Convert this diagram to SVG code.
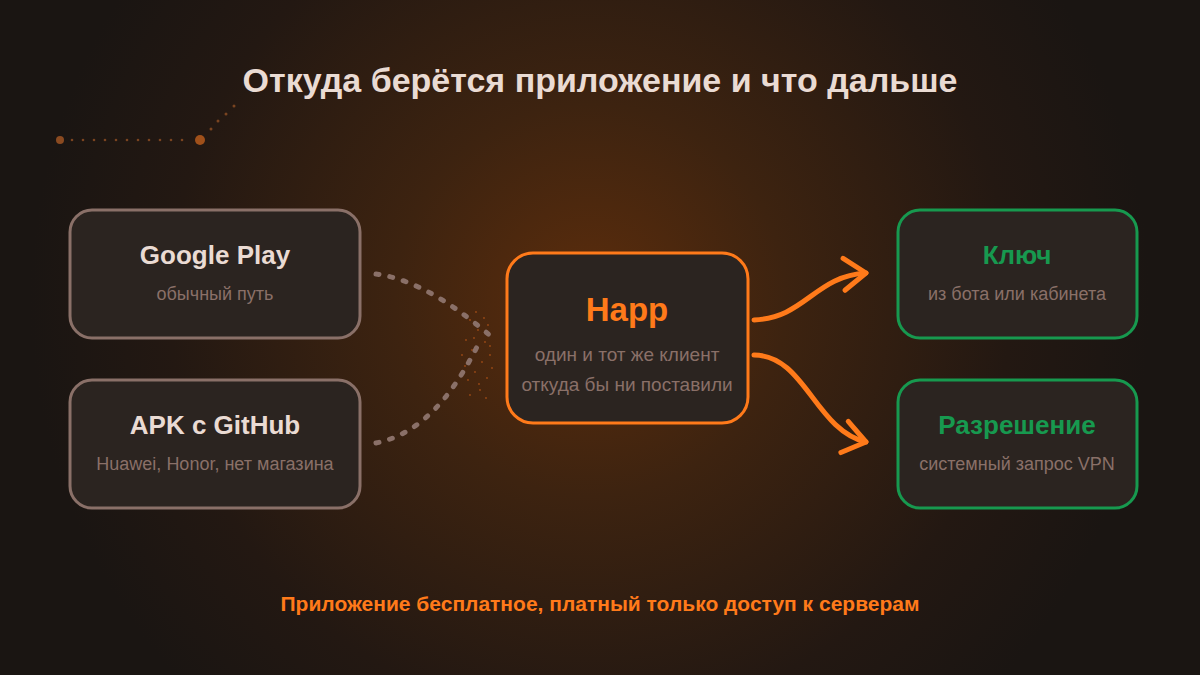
<svg xmlns="http://www.w3.org/2000/svg" width="1200" height="675" viewBox="0 0 1200 675">
<defs>
<radialGradient id="bg" cx="590" cy="300" r="560" gradientUnits="userSpaceOnUse">
<stop offset="0" stop-color="#5c2d0c"/>
<stop offset="0.35" stop-color="#3d2310"/>
<stop offset="0.75" stop-color="#231812"/>
<stop offset="1" stop-color="#1a1512"/>
</radialGradient>
<marker id="chev" markerUnits="userSpaceOnUse" markerWidth="40" markerHeight="40" viewBox="-30 -20 40 40" refX="0" refY="0" orient="auto">
<path d="M-22,-16 L0,0 L-22,16" fill="none" stroke="#ff7a1a" stroke-width="5" stroke-linecap="round" stroke-linejoin="round"/>
</marker>
<style>
.box{fill:#2b2420;stroke-width:3}
.grey{stroke:#8a7068}
.green{stroke:#17994f}
.t{font-family:"Liberation Sans",Arial,sans-serif;text-anchor:middle}
.h{font-weight:bold;font-size:26px;fill:#eadbd3}
.s{font-size:18px;fill:#8a7068}
.dash{fill:none;stroke:#8a7068;stroke-width:5;stroke-linecap:round;stroke-dasharray:3 11}
.arr{fill:none;stroke:#ff7a1a;stroke-width:5;stroke-linecap:round}
</style>
</defs>
<rect width="1200" height="675" fill="url(#bg)"/>

<g id="title">
<text class="t" x="600" y="92" font-size="34" font-weight="bold" fill="#eadbd3">Откуда берётся приложение и что дальше</text>
</g>

<g id="decor">
<circle cx="60" cy="140" r="4" fill="#8a4a20"/>
<circle cx="200" cy="140" r="5" fill="#a0501a"/>
<g fill="#7a4420">
<circle cx="72" cy="140" r="1.3"/><circle cx="83" cy="140" r="1.3"/><circle cx="94" cy="140" r="1.3"/><circle cx="105" cy="140" r="1.3"/><circle cx="116" cy="140" r="1.3"/><circle cx="127" cy="140" r="1.3"/><circle cx="138" cy="140" r="1.3"/><circle cx="149" cy="140" r="1.3"/><circle cx="160" cy="140" r="1.3"/><circle cx="171" cy="140" r="1.3"/><circle cx="182" cy="140" r="1.3"/>
<circle cx="211" cy="129" r="1.5"/><circle cx="218" cy="121" r="1.5"/><circle cx="226" cy="114" r="1.5"/><circle cx="234" cy="106" r="1.5"/>
</g>
</g>

<g id="connectors">
<g fill="#d0601a" opacity="0.6">
<circle cx="470" cy="320" r="0.9"/><circle cx="478" cy="330" r="0.9"/><circle cx="485" cy="342" r="0.9"/><circle cx="472" cy="350" r="0.9"/><circle cx="482" cy="362" r="0.9"/><circle cx="490" cy="355" r="0.9"/><circle cx="466" cy="340" r="0.9"/><circle cx="475" cy="372" r="0.9"/><circle cx="487" cy="378" r="0.9"/><circle cx="480" cy="390" r="0.9"/><circle cx="470" cy="395" r="0.9"/><circle cx="462" cy="355" r="0.9"/><circle cx="488" cy="325" r="0.9"/><circle cx="476" cy="312" r="0.9"/><circle cx="492" cy="368" r="0.9"/><circle cx="468" cy="380" r="0.9"/><circle cx="484" cy="318" r="0.9"/><circle cx="474" cy="338" r="0.9"/><circle cx="490" cy="346" r="0.9"/><circle cx="479" cy="384" r="0.9"/><circle cx="465" cy="366" r="0.9"/><circle cx="486" cy="398" r="0.9"/>
</g>
<path class="dash" d="M376,274 C420,280 460,310 493,338"/>
<path class="dash" d="M376,443 C430,432 460,380 478,345"/>
<path class="arr" d="M754,320 C805,318 815,276 866,273" marker-end="url(#chev)"/>
<path class="arr" d="M754,355 C805,355 815,430 866,442" marker-end="url(#chev)"/>
</g>

<g id="google-play">
<rect class="box grey" x="70" y="210" width="290" height="128" rx="22"/>
<text class="t h" x="215" y="264">Google Play</text>
<text class="t s" x="215" y="300">обычный путь</text>
</g>

<g id="apk-github">
<rect class="box grey" x="70" y="380" width="290" height="128" rx="22"/>
<text class="t h" x="215" y="434">APK с GitHub</text>
<text class="t s" x="215" y="470">Huawei, Honor, нет магазина</text>
</g>

<g id="happ">
<rect class="box" x="507" y="253" width="241" height="170" rx="26" stroke="#ff7a1a" stroke-width="4"/>
<text class="t" x="627" y="321" font-size="33" font-weight="bold" fill="#ff7a1a">Happ</text>
<text class="t" x="627" y="361" font-size="19" fill="#8a7068">один и тот же клиент</text>
<text class="t" x="627" y="391" font-size="19" fill="#8a7068">откуда бы ни поставили</text>
</g>

<g id="key">
<rect class="box green" x="898" y="210" width="239" height="128" rx="22"/>
<text class="t" x="1017" y="264" font-size="26" font-weight="bold" fill="#17994f">Ключ</text>
<text class="t s" x="1017" y="300">из бота или кабинета</text>
</g>

<g id="permission">
<rect class="box green" x="898" y="380" width="239" height="128" rx="22"/>
<text class="t" x="1017" y="434" font-size="26" font-weight="bold" fill="#17994f">Разрешение</text>
<text class="t s" x="1017" y="470">системный запрос VPN</text>
</g>

<g id="footnote">
<text class="t" x="600" y="611" font-size="21" font-weight="bold" fill="#ff7a1a">Приложение бесплатное, платный только доступ к серверам</text>
</g>
</svg>
